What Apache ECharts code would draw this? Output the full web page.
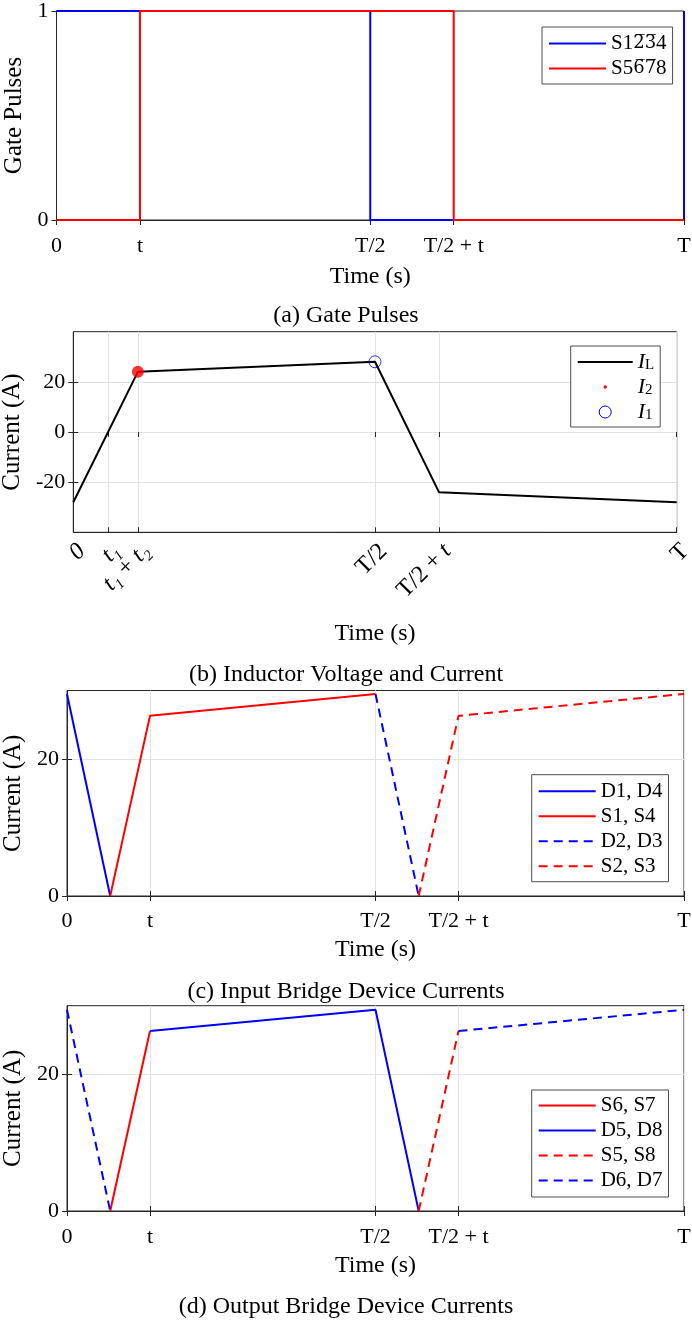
<!DOCTYPE html>
<html>
<head>
<meta charset="utf-8">
<title>Gate pulses and device currents</title>
<script src="https://cdn.jsdelivr.net/npm/echarts@6/dist/echarts.min.js"></script>
<style>
  html, body { margin: 0; padding: 0; background: #fff; }
  #chart { width: 692px; height: 1321px; }
</style>
</head>
<body>
<div id="chart"></div>
<script>
// (a) gate pulses, time in fractions of T
const ticksA = [0, 0.133, 0.5, 0.633, 1];
const tickLabelsA = ['0', 't', 'T/2', 'T/2 + t', 'T'];
const gateS1234 = [[0, 1], [0.5, 1], [0.5, 0], [1, 0], [1, 1]];
const gateS5678 = [[0, 0], [0.133, 0], [0.133, 1], [0.633, 1], [0.633, 0], [1, 0]];

// (b) inductor current
const ticksB = [0, 0.0575, 0.107, 0.5, 0.606, 1];
const tickLabelsB = ['{i|0}', '{i|t₁}', '{i|t₁} + {i|t₂}', 'T/2', 'T/2 + {i|t}', 'T'];
const currentIL = [[0, -28], [0.107, 24], [0.5, 28], [0.606, -24], [1, -28]];
const pointI2 = [[0.107, 24]];
const pointI1 = [[0.5, 28]];

// (c) input bridge device currents
const ticksC = [0, 0.1345, 0.5, 0.6345, 1];
const tickLabelsC = ['0', 't', 'T/2', 'T/2 + t', 'T'];
const d1d4 = [[0, 29.5], [0.07, 0]];
const s1s4 = [[0.07, 0], [0.1345, 26.3], [0.5, 29.5]];
const d2d3 = [[0.5, 29.5], [0.57, 0]];
const s2s3 = [[0.57, 0], [0.6345, 26.3], [1, 29.5]];

// (d) output bridge device currents
const ticksD = [0, 0.1345, 0.5, 0.6345, 1];
const tickLabelsD = ['0', 't', 'T/2', 'T/2 + t', 'T'];
const s6s7 = [[0.07, 0], [0.1345, 26.3]];
const d5d8 = [[0.1345, 26.3], [0.5, 29.4], [0.57, 0]];
const s5s8 = [[0.57, 0], [0.6345, 26.3]];
const d6d7a = [[0, 29.4], [0.07, 0]];
const d6d7b = [[0.6345, 26.3], [1, 29.4]];

const FONT = 'Liberation Serif';
const AXIS = '#262626';
const GRID_LINE = '#e3e3e3';
const BLUE = '#0000ff';
const RED = '#ff0000';

const grids = [
  {left: 56.5, top: 11, width: 627.5, height: 209},
  {left: 73.3, top: 331.7, width: 603.4, height: 200.6},
  {left: 67, top: 690.5, width: 617, height: 205.5},
  {left: 67, top: 1005.7, width: 617, height: 205.3}
];

function labelFor(ticks, labels) {
  return function (v) {
    for (let i = 0; i < ticks.length; i++) {
      if (Math.abs(ticks[i] - v) < 1e-9) return labels[i];
    }
    return '';
  };
}

function bottomAxis(gi, ticks, labels, opts) {
  return {
    type: 'value', gridIndex: gi, position: 'bottom', min: 0, max: 1,
    name: 'Time (s)', nameLocation: 'middle', nameGap: opts.nameGap,
    nameTextStyle: {fontFamily: FONT, fontSize: 24, color: '#000'},
    axisLine: {show: true, onZero: false, lineStyle: {color: AXIS, width: 1}},
    axisTick: {show: true, inside: true, length: 5, customValues: ticks, lineStyle: {color: AXIS}},
    axisLabel: Object.assign({
      customValues: ticks, formatter: labelFor(ticks, labels),
      fontFamily: FONT, fontSize: 22, color: '#000', margin: opts.margin
    }, opts.label || {}),
    splitLine: {show: opts.grid, lineStyle: {color: GRID_LINE, width: 1}}
  };
}

function leftAxis(gi, min, max, ticks, opts) {
  return {
    type: 'value', gridIndex: gi, position: 'left', min: min, max: max,
    name: opts.name, nameLocation: 'middle', nameGap: opts.nameGap,
    nameTextStyle: {fontFamily: FONT, fontSize: 25, color: '#000'},
    axisLine: {show: true, onZero: false, lineStyle: {color: AXIS, width: 1}},
    axisTick: {show: true, inside: true, length: 5, customValues: ticks, lineStyle: {color: AXIS}},
    axisLabel: {customValues: ticks, fontFamily: FONT, fontSize: 22, color: '#000', margin: 8},
    splitLine: {show: opts.grid, lineStyle: {color: GRID_LINE, width: 1}}
  };
}

// mirrored ticks on the top and right edges of each box
function topAxis(gi, ticks) {
  return {
    type: 'value', gridIndex: gi, position: 'top', min: 0, max: 1,
    axisLine: {show: false}, axisLabel: {show: false}, splitLine: {show: false},
    axisTick: {show: true, inside: true, length: 5, customValues: ticks, lineStyle: {color: AXIS}}
  };
}

function rightAxis(gi, min, max, ticks) {
  return {
    type: 'value', gridIndex: gi, position: 'right', min: min, max: max,
    axisLine: {show: false}, axisLabel: {show: false}, splitLine: {show: false},
    axisTick: {show: true, inside: true, length: 5, customValues: ticks, lineStyle: {color: AXIS}}
  };
}

function line(name, gi, data, color, dashed) {
  return {
    name: name, type: 'line', xAxisIndex: gi, yAxisIndex: gi,
    data: data, symbol: 'none', animation: false,
    itemStyle: {color: color},
    lineStyle: {color: color, width: 2, type: dashed ? [9, 6] : 'solid'}
  };
}

// overlined digits need a font that carries U+0305
const legendText = {
  fontFamily: FONT, fontSize: 21, color: '#000', lineHeight: 20,
  rich: {
    n: {fontFamily: FONT, fontSize: 21, color: '#000'},
    o: {fontFamily: 'DejaVu Serif', fontSize: 18, color: '#000'}
  }
};

function legendBox(left, top, names, extra) {
  return Object.assign({
    orient: 'vertical', left: left, top: top,
    padding: [6, 6, 5, 6], itemWidth: 57, itemHeight: 14, itemGap: 4,
    borderColor: '#4d4d4d', borderWidth: 1, backgroundColor: '#fff',
    selectedMode: false, data: names, textStyle: legendText,
    itemStyle: {opacity: 0}
  }, extra || {});
}

const gateNames = {'S1234': '{n|S1}{o|2̅3̅}{n|4}', 'S5678': '{n|S5}{o|6̅7̅}{n|8}'};

const chart = echarts.init(document.getElementById('chart'));

const option = {
  backgroundColor: '#fff',
  animation: false,
  title: [
    {text: '(a) Gate Pulses', top: 302},
    {text: '(b) Inductor Voltage and Current', top: 661},
    {text: '(c) Input Bridge Device Currents', top: 978},
    {text: '(d) Output Bridge Device Currents', top: 1293}
  ].map(t => Object.assign({
    left: 'center', padding: 0,
    textStyle: {fontFamily: FONT, fontSize: 24, fontWeight: 'normal', color: '#000', lineHeight: 28}
  }, t)),
  grid: grids.map(g => Object.assign({
    show: true, borderColor: AXIS, borderWidth: 1, backgroundColor: 'transparent',
    containLabel: false, outerBoundsMode: 'none'
  }, g)),
  xAxis: [
    bottomAxis(0, ticksA, tickLabelsA, {nameGap: 45, margin: 15, grid: false}),
    bottomAxis(1, ticksB, tickLabelsB, {
      nameGap: 89, margin: 7, grid: true,
      label: {
        fontSize: 24, rotate: 45, align: 'right', verticalAlign: 'top',
        rich: {i: {fontFamily: FONT, fontSize: 24, fontStyle: 'italic', color: '#000'}}
      }
    }),
    bottomAxis(2, ticksC, tickLabelsC, {nameGap: 42, margin: 14, grid: true}),
    bottomAxis(3, ticksD, tickLabelsD, {nameGap: 43, margin: 15, grid: true}),
    topAxis(0, ticksA), topAxis(1, ticksB), topAxis(2, ticksC), topAxis(3, ticksD)
  ],
  yAxis: [
    leftAxis(0, 0, 1, [0, 1], {name: 'Gate Pulses', nameGap: 23, grid: false}),
    leftAxis(1, -40, 40, [-20, 0, 20], {name: 'Current (A)', nameGap: 40, grid: true}),
    leftAxis(2, 0, 30, [0, 20], {name: 'Current (A)', nameGap: 34, grid: true}),
    leftAxis(3, 0, 30, [0, 20], {name: 'Current (A)', nameGap: 34, grid: true}),
    rightAxis(0, 0, 1, [0, 1]), rightAxis(1, -40, 40, [-20, 0, 20]),
    rightAxis(2, 0, 30, [0, 20]), rightAxis(3, 0, 30, [0, 20])
  ],
  legend: [
    legendBox(542, 27, ['S1234', 'S5678'], {
      formatter: function (name) { return gateNames[name]; }
    }),
    legendBox(570.7, 346, [
      {name: 'IL'},
      {name: 'I2', icon: 'path://M0 0L55 12L0 0ZM25.8 6a1.7 1.7 0 1 0 3.4 0a1.7 1.7 0 1 0 -3.4 0Z',
        itemStyle: {color: RED, borderWidth: 0, opacity: 1}},
      {name: 'I1', icon: 'circle',
        itemStyle: {color: 'transparent', borderColor: BLUE, borderWidth: 1, opacity: 1}}
    ], {
      itemWidth: 55, itemHeight: 12, itemGap: 3, padding: [5, 6, 4, 6],
      formatter: function (name) {
        return '{i|I}{s|' + name.slice(1) + '}';
      },
      textStyle: Object.assign({}, legendText, {
        rich: {
          i: {fontFamily: FONT, fontSize: 22, lineHeight: 22, fontStyle: 'italic', color: '#000'},
          s: {fontFamily: FONT, fontSize: 15, lineHeight: 15, color: '#000', verticalAlign: 'bottom', padding: [7, 0, 0, 0]}
        }
      })
    }),
    legendBox(531.7, 774.7, ['D1, D4', 'S1, S4', 'D2, D3', 'S2, S3']),
    legendBox(531.7, 1090, ['S6, S7', 'D5, D8', 'S5, S8', 'D6, D7'], {padding: [5, 6, 6, 6]})
  ],
  series: [
    line('S1234', 0, gateS1234, BLUE, false),
    line('S5678', 0, gateS5678, RED, false),

    line('IL', 1, currentIL, '#000', false),
    {
      name: 'I2', type: 'scatter', xAxisIndex: 1, yAxisIndex: 1, data: pointI2,
      symbol: 'circle', symbolSize: 12, itemStyle: {color: RED}, z: 5
    },
    {
      name: 'I1', type: 'scatter', xAxisIndex: 1, yAxisIndex: 1, data: pointI1,
      symbol: 'circle', symbolSize: 12, z: 5,
      itemStyle: {color: 'transparent', borderColor: BLUE, borderWidth: 1}
    },

    line('D1, D4', 2, d1d4, BLUE, false),
    line('S1, S4', 2, s1s4, RED, false),
    line('D2, D3', 2, d2d3, BLUE, true),
    line('S2, S3', 2, s2s3, RED, true),

    line('S6, S7', 3, s6s7, RED, false),
    line('D5, D8', 3, d5d8, BLUE, false),
    line('S5, S8', 3, s5s8, RED, true),
    line('D6, D7', 3, d6d7a, BLUE, true),
    line('D6, D7', 3, d6d7b, BLUE, true)
  ]
};

chart.setOption(option);
</script>
</body>
</html>
